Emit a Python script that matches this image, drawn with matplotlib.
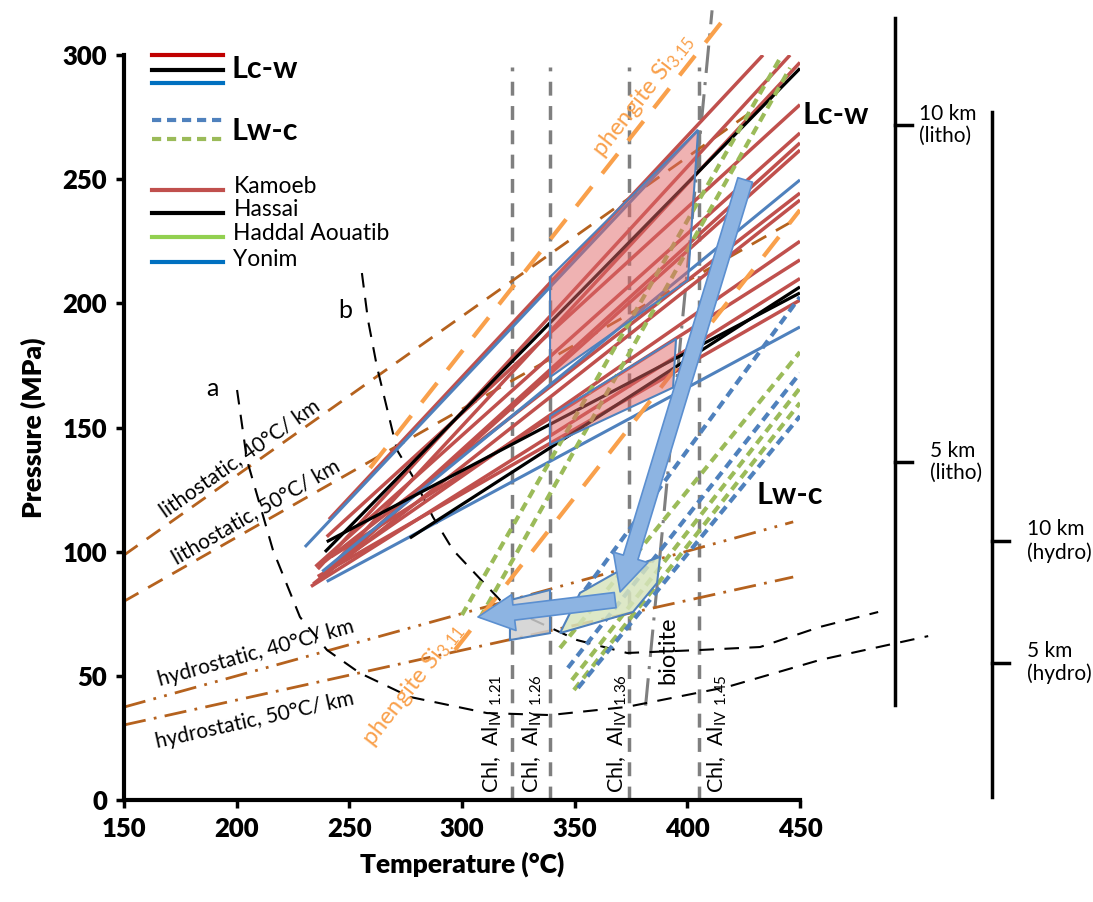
import matplotlib
matplotlib.use('Agg')
import matplotlib.pyplot as plt
from matplotlib.patches import Polygon

plt.rcParams['font.family'] = ['Lato', 'DejaVu Sans']
plt.rcParams['mathtext.fontset'] = 'custom'
plt.rcParams['mathtext.rm'] = 'Lato'
plt.rcParams['mathtext.it'] = 'Lato:italic'
plt.rcParams['mathtext.bf'] = 'Lato:bold'

# --- Lc-w lines (start T, start P, end T, end P) ---
kam_t0 = [241, 236, 237, 240, 235, 238, 236, 239, 234, 242, 236, 233, 244]
kam_p0 = [113, 93, 89, 106, 94, 90, 88, 96, 87, 98, 90, 86, 95]
kam_t1 = [433.6, 445.6, 450, 450, 450, 450, 450, 450, 450, 450, 450, 450, 450]
kam_p1 = [300, 300, 297, 280, 268.6, 264.6, 261.7, 244.4, 241.6, 217.5, 201.3, 210, 225]

has_t0 = [239.2, 276.9, 240]
has_p0 = [99.9, 105.5, 104]
has_t1 = [450, 450, 450]
has_p1 = [294.6, 206.6, 204.2]

yon_t0 = [230.3, 238, 240]
yon_p0 = [101.9, 92, 88]
yon_t1 = [404.8, 450, 450]
yon_p1 = [269.8, 249.7, 190.5]

# --- Lw-c lines ---
lwc_g_t0 = [343.5, 348.8, 349.7, 300.0, 308.0]
lwc_g_p0 = [61.2, 48.3, 44.3, 74.5, 73.3]
lwc_g_t1 = [450, 450, 450, 442.0, 445.6]
lwc_g_p1 = [180.4, 165.9, 159.9, 300, 294.8]

lwc_b_t0 = [347.0, 351.5, 354.6]
lwc_b_p0 = [53.2, 45.1, 84.6]
lwc_b_t1 = [450, 450, 450]
lwc_b_p1 = [171.9, 154.6, 202.6]

# --- geotherms ---
lith40_t, lith40_p = [150, 439], [98.6, 283.9]
lith50_t, lith50_p = [150, 450], [80, 234.8]
hyd40_t, hyd40_p = [150, 447], [37.4, 112]
hyd50_t, hyd50_p = [150, 447], [30.2, 89.8]

# --- phengite, biotite, chlorite ---
phe315_t, phe315_p = [259.2, 417.6], [133.7, 316]
phe311_t, phe311_p = [296.9, 450], [60.4, 237.6]
bio_t, bio_p = [381.5, 411], [38, 318]
chl_t = [322, 339, 374, 405]
chl_lbl = ['1.21', '1.26', '1.36', '1.45']
chl_lbl_t = [313.3, 331.1, 368.8, 413.2]

# --- curves a and b ---
a_t = [200.2, 204.6, 216.1, 228.1, 240.1, 254.7, 276.9, 311.1, 339.1, 373.3, 417.6, 458.9, 506.9]
a_p = [165.1, 136.9, 100.7, 73.7, 60.4, 51.1, 41.5, 35.0, 34.2, 37.5, 45.5, 56.4, 66.0]
b_t = [255.6, 258.3, 262.3, 271.2, 278.3, 287.1, 296.0, 316.9, 328.9, 351.1, 373.3, 405.7, 432.3, 458.9, 484.7]
b_p = [212.2, 193.3, 174.4, 140.9, 130.1, 114.0, 100.7, 80.5, 73.7, 64.4, 59.2, 60.4, 61.6, 69.7, 75.7]

# --- fields ---
big_t, big_p = [339.1, 404.8, 400.3, 339.1], [210.6, 269.8, 209.4, 170.3]
small_t, small_p = [339.1, 395.0, 393.7, 339.1], [154.6, 185.7, 166.1, 143.0]
gray_t, gray_p = [321.3, 339.1, 339.1, 321.3], [80.5, 84.6, 67.2, 64.4]
green_t = [352.4, 368.8, 387.9, 386.6, 375.9, 343.5]
green_p = [83.4, 91.8, 97.9, 87.4, 75.7, 67.2]

# --- arrows (start, end) ---
arrow1 = [(425.7, 249.7), (370.2, 83.8)]
arrow2 = [(368.0, 80.5), (307.1, 73.7)]

# --- depth scales ---
litho_x, litho_range = 492.2, [38.3, 314.9]
litho_depth = ['10 km\n(litho)', '5 km\n(litho)']
litho_p = [271.8, 136.1]
hydro_x, hydro_range = 535.3, [1.2, 277]
hydro_depth = ['10 km\n(hydro)', '5 km\n(hydro)']
hydro_p = [104.3, 55.2]

RED = '#C0504D'
BLK = '#000000'
BLU = '#4F81BD'
GRN = '#9BBB59'
BRN = '#B5621E'
ORG = '#F9A04B'
GRY = '#7F7F7F'

fig = plt.figure(figsize=(10.93, 9.02), dpi=100)
ax = fig.add_axes([0.1134, 0.1131, 0.6185, 0.8259])
ax.set_xlim(150, 450)
ax.set_ylim(0, 300)

# chlorite isotherms and biotite
for t in chl_t:
    ax.plot([t, t], [0, 295], color=GRY, lw=2.5, ls=(0, (4, 3)), zorder=2)
ax.plot(bio_t, bio_p, color=GRY, lw=2.2, ls=(0, (9, 3, 1, 3)), zorder=2, clip_on=False)

# geotherms
ax.plot(lith40_t, lith40_p, color=BRN, lw=2, ls=(0, (6, 4)), zorder=2)
ax.plot(lith50_t, lith50_p, color=BRN, lw=2, ls=(0, (6, 4)), zorder=2)
ax.plot(hyd40_t, hyd40_p, color=BRN, lw=2, ls=(0, (8, 3, 1, 3, 1, 3)), zorder=2, clip_on=False)
ax.plot(hyd50_t, hyd50_p, color=BRN, lw=2, ls=(0, (8, 3, 1, 3)), zorder=2, clip_on=False)

# curves a, b
ax.plot(a_t, a_p, color='k', lw=1.5, ls=(0, (7, 5)), zorder=2, clip_on=False)
ax.plot(b_t, b_p, color='k', lw=1.5, ls=(0, (7, 5)), zorder=2, clip_on=False)

# Lc-w
for t0, p0, t1, p1 in zip(kam_t0, kam_p0, kam_t1, kam_p1):
    ax.plot([t0, t1], [p0, p1], color=RED, lw=2.5, zorder=3, solid_capstyle='butt')
for t0, p0, t1, p1 in zip(yon_t0, yon_p0, yon_t1, yon_p1):
    ax.plot([t0, t1], [p0, p1], color=BLU, lw=2.2, zorder=3, solid_capstyle='butt')
for t0, p0, t1, p1 in zip(has_t0, has_p0, has_t1, has_p1):
    ax.plot([t0, t1], [p0, p1], color=BLK, lw=2.3, zorder=3, solid_capstyle='butt')

# Lw-c
for t0, p0, t1, p1 in zip(lwc_g_t0, lwc_g_p0, lwc_g_t1, lwc_g_p1):
    ax.plot([t0, t1], [p0, p1], color=GRN, lw=3, ls=(0, (2.2, 1.4)), zorder=3)
for t0, p0, t1, p1 in zip(lwc_b_t0, lwc_b_p0, lwc_b_t1, lwc_b_p1):
    ax.plot([t0, t1], [p0, p1], color=BLU, lw=3, ls=(0, (2.2, 1.4)), zorder=3)

# phengite
ax.plot(phe315_t, phe315_p, color=ORG, lw=3, ls=(0, (6, 4)), zorder=3, clip_on=False)
ax.plot(phe311_t, phe311_p, color=ORG, lw=3, ls=(0, (6, 4)), zorder=3)

# fields
for xs, ys, fc, al in [(big_t, big_p, '#E06666', 0.5), (small_t, small_p, '#E06666', 0.5),
                       (gray_t, gray_p, '#D0D0D0', 0.85), (green_t, green_p, '#D7E4BD', 0.85)]:
    ax.add_patch(Polygon(list(zip(xs, ys)), closed=True, facecolor=fc, alpha=al,
                         edgecolor='none', zorder=4))
    ax.add_patch(Polygon(list(zip(xs, ys)), closed=True, facecolor='none',
                         edgecolor=BLU, lw=1.5, zorder=4))

# arrows
for (s, e) in [arrow1, arrow2]:
    ax.annotate('', xy=e, xytext=s, zorder=6,
                arrowprops=dict(arrowstyle='simple,head_length=1.3,head_width=1.3,tail_width=0.55',
                                mutation_scale=20, fc='#8DB4E2', ec='#5B8FD0', lw=1.2, shrinkA=0, shrinkB=0))

# texts
ax.text(201.5, 137.7, 'lithostatic, 40°C/ km', rotation=35, fontsize=15, ha='center', va='center', zorder=5)
ax.text(208.6, 116.0, 'lithostatic, 50°C/ km', rotation=30, fontsize=15, ha='center', va='center', zorder=5)
ax.text(208.6, 59.2, 'hydrostatic, 40°C/ km', rotation=15.5, fontsize=15, ha='center', va='center', zorder=5)
ax.text(208.1, 32.2, 'hydrostatic, 50°C/ km', rotation=12.5, fontsize=15, ha='center', va='center', zorder=5)
ax.text(278.3, 46.3, r'phengite Si$_{\mathrm{3.11}}$', rotation=52, color=ORG, fontsize=17,
        ha='center', va='center', zorder=5)
ax.text(380.3, 283.9, r'phengite Si$_{\mathrm{3.15}}$', rotation=52, color=ORG, fontsize=17,
        ha='center', va='center', zorder=5)
ax.text(189.1, 165.9, 'a', fontsize=18, ha='center', va='center')
ax.text(248.1, 197.3, 'b', fontsize=18, ha='center', va='center')
ax.text(451, 275.8, 'Lc-w', fontsize=22, fontweight='bold', ha='left', va='center', clip_on=False)
ax.text(430.9, 122.8, 'Lw-c', fontsize=22, fontweight='bold', ha='left', va='center', zorder=5)
ax.text(391.4, 60.4, 'biotite', rotation=90, fontsize=17, ha='center', va='center', zorder=5)
for t, lb in zip(chl_lbl_t, chl_lbl):
    ax.text(t, 2.8, r'Chl,  Al$_{\mathrm{IV}}$ $_{\mathrm{' + lb + '}}$', rotation=90,
            fontsize=15.5, ha='center', va='bottom', zorder=5)

# depth scales
ax.plot([litho_x, litho_x], litho_range, color='k', lw=2.5, clip_on=False)
ax.plot([hydro_x, hydro_x], hydro_range, color='k', lw=2.5, clip_on=False)
for p, lb, dx in zip(litho_p, litho_depth, [10.5, 15.5]):
    ax.plot([litho_x, litho_x + 7.5], [p, p], color='k', lw=2.5, clip_on=False)
    ax.text(litho_x + dx, p, lb, fontsize=15, ha='left', va='center', clip_on=False, linespacing=1.15)
for p, lb in zip(hydro_p, hydro_depth):
    ax.plot([hydro_x, hydro_x + 7.5], [p, p], color='k', lw=2.5, clip_on=False)
    ax.text(hydro_x + 15.5, p, lb, fontsize=15, ha='left', va='center', clip_on=False, linespacing=1.15)

# legend drawn in the top-left corner
tr = ax.transAxes
for y, c in [(1.0, '#C00000'), (0.980, 'k'), (0.962, '#0070C0')]:
    ax.plot([0.0414, 0.1464], [y, y], color=c, lw=3, transform=tr, clip_on=False)
ax.text(0.159, 0.981, 'Lc-w', fontsize=22, fontweight='bold', transform=tr, va='center')
for y, c in [(0.913, BLU), (0.887, GRN)]:
    ax.plot([0.0414, 0.1464], [y, y], color=c, lw=3, ls=(0, (2.2, 1.4)), transform=tr)
ax.text(0.159, 0.898, 'Lw-c', fontsize=22, fontweight='bold', transform=tr, va='center')
for y, c, lb in [(0.819, RED, 'Kamoeb'), (0.788, 'k', 'Hassai'),
                 (0.756, '#92D050', 'Haddal Aouatib'), (0.722, '#0070C0', 'Yonim')]:
    ax.plot([0.0414, 0.1464], [y, y], color=c, lw=3, transform=tr)
    ax.text(0.162, y + 0.004, lb, fontsize=16.5, transform=tr, va='center')

# axes styling
for s in ['top', 'right']:
    ax.spines[s].set_visible(False)
for s in ['left', 'bottom']:
    ax.spines[s].set_linewidth(3)
ax.set_xticks(range(150, 451, 50))
ax.set_yticks(range(0, 301, 50))
ax.tick_params(direction='out', length=6, width=2.5, labelsize=18.5, pad=6)
for lab in ax.get_xticklabels() + ax.get_yticklabels():
    lab.set_fontweight('heavy')
ax.set_xlabel('Temperature (°C)', fontsize=19, fontweight='heavy', labelpad=8)
ax.set_ylabel('Pressure (MPa)', fontsize=19, fontweight='heavy', labelpad=12)

plt.savefig('out.png', dpi=100)
